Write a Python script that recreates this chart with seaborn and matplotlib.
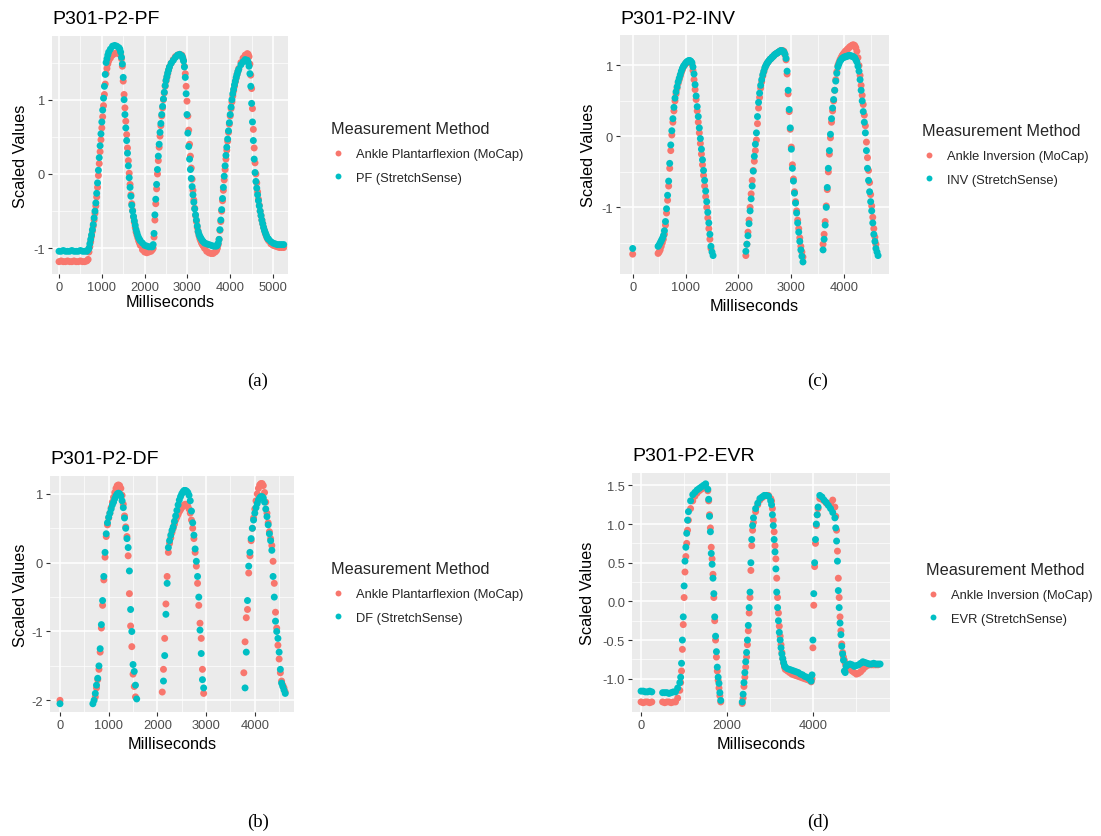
import numpy as np
import pandas as pd
import matplotlib.pyplot as plt
import seaborn as sns
from matplotlib.ticker import MultipleLocator, FormatStrFormatter

nan = np.nan
RED = "#F8766D"
TEAL = "#00BFC4"

# Each series is stored as segments: (start ms, sample step ms) + values.
# Steep stretches are read at a finer step than the flat ones.

# (a) P301-P2-PF
PF_SEGMENTS = [(0, 50), (680, 20), (1200, 50), (1420, 20), (1950, 50), (2180, 20), (2620, 50),
               (2890, 20), (3400, 50), (3680, 20), (4250, 50), (4420, 20), (4950, 50)]
PF_MOCAP = [
    [-1.18, -1.17, -1.18, -1.18, -1.17, -1.18, -1.18, -1.17, -1.18, -1.18, -1.17, -1.18, -1.18, -1.17],
    [-1.15, -1.05, -0.98, -0.91, -0.84, -0.77, -0.70, -0.62, -0.53, -0.43, -0.31, -0.18, -0.02,
     0.14, 0.30, 0.46, 0.62, 0.77, 0.92, 1.07, 1.21, 1.35, 1.42, 1.48, 1.52],
    [1.56, 1.60, 1.62, 1.63, 1.62],
    [1.61, 1.60, 1.55, 1.45, 1.25, 1.07, 0.89, 0.71, 0.53, 0.35, 0.18, 0.01, -0.14,
     -0.28, -0.40, -0.49, -0.58, -0.65, -0.72, -0.78, -0.82, -0.86, -0.90, -0.93, -0.96],
    [-1.02, -1.05, -1.06, -1.05, -1.04],
    [-1.02, -1.00, -0.85, -0.62, -0.40, -0.20, 0.00, 0.18, 0.36, 0.51, 0.65, 0.78, 0.89,
     1.00, 1.09, 1.18, 1.25, 1.30, 1.35, 1.40, 1.44],
    [1.49, 1.54, 1.58, 1.60, 1.61, 1.60],
    [1.57, 1.53, 1.45, 1.35, 1.18, 0.98, 0.78, 0.59, 0.40, 0.24, 0.08, -0.07, -0.22,
     -0.35, -0.46, -0.56, -0.64, -0.72, -0.78, -0.83, -0.87, -0.90, -0.93, -0.95, -0.97],
    [-1.00, -1.04, -1.06, -1.07, -1.07, -1.05],
    [-1.03, -1.00, -0.95, -0.88, -0.76, -0.64, -0.50, -0.36, -0.22, -0.08, 0.06, 0.20, 0.32, 0.44,
     0.56, 0.67, 0.78, 0.88, 0.97, 1.05, 1.12, 1.18, 1.24, 1.29, 1.34, 1.38, 1.42],
    [1.50, 1.56, 1.60, 1.62],
    [1.61, 1.58, 1.48, 1.33, 1.15, 0.88, 0.60, 0.35, 0.15, 0.00, -0.12, -0.24, -0.34,
     -0.42, -0.50, -0.56, -0.62, -0.67, -0.72, -0.76, -0.80, -0.83, -0.86, -0.88, -0.90],
    [-0.94, -0.96, -0.97, -0.98, -0.99, -0.99, -0.99],
]
PF_STRETCH = [
    [-1.04, -1.04, -1.03, -1.04, -1.04, -1.04, -1.03, -1.04, -1.04, -1.04, -1.03, -1.04, -1.04, -1.04],
    [-1.02, -1.00, -0.94, -0.88, -0.82, -0.75, -0.68, -0.59, -0.50, -0.39, -0.26, -0.12, 0.05,
     0.22, 0.38, 0.54, 0.70, 0.86, 1.02, 1.18, 1.34, 1.50, 1.55, 1.60, 1.64],
    [1.68, 1.72, 1.73, 1.72, 1.70],
    [1.68, 1.64, 1.57, 1.48, 1.30, 1.00, 0.80, 0.62, 0.45, 0.28, 0.11, -0.05, -0.18,
     -0.30, -0.42, -0.50, -0.57, -0.63, -0.69, -0.75, -0.79, -0.83, -0.86, -0.88, -0.90],
    [-0.93, -0.96, -0.97, -0.98, -0.98],
    [-0.98, -0.95, -0.80, -0.55, -0.34, -0.14, 0.06, 0.24, 0.40, 0.56, 0.68, 0.80, 0.91,
     1.01, 1.10, 1.19, 1.26, 1.31, 1.36, 1.40, 1.44],
    [1.49, 1.53, 1.57, 1.60, 1.61, 1.59],
    [1.56, 1.52, 1.44, 1.30, 1.08, 0.80, 0.55, 0.37, 0.20, 0.06, -0.06, -0.17, -0.28,
     -0.38, -0.47, -0.55, -0.62, -0.70, -0.77, -0.81, -0.84, -0.86, -0.88, -0.90, -0.91],
    [-0.93, -0.94, -0.95, -0.96, -0.97, -0.97],
    [-0.97, -0.96, -0.93, -0.88, -0.75, -0.62, -0.48, -0.33, -0.18, -0.03, 0.11, 0.25, 0.36, 0.47,
     0.58, 0.69, 0.80, 0.90, 1.00, 1.08, 1.14, 1.20, 1.25, 1.30, 1.34, 1.38, 1.41],
    [1.47, 1.51, 1.54, 1.53],
    [1.50, 1.45, 1.35, 1.18, 0.95, 0.70, 0.45, 0.20, 0.02, -0.10, -0.19, -0.28, -0.36,
     -0.43, -0.50, -0.56, -0.62, -0.67, -0.72, -0.76, -0.79, -0.82, -0.85, -0.87, -0.88],
    [-0.91, -0.93, -0.94, -0.95, -0.95, -0.95, -0.95],
]

# (b) P301-P2-DF
DF_SEGMENTS = [(0, 25), (675, 25), (2100, 25), (3775, 25)]
DF_MOCAP = [
    [-2.00],
    [nan, nan, -1.95, -1.82, -1.70, -1.55, -1.30, -0.95, -0.62, -0.25, 0.08, 0.38, 0.55, 0.65, 0.72, 0.80,
     0.88, 0.95, 1.02, 1.08, 1.12, 1.13, 1.12, 1.08, 0.98, 0.85, 0.68, 0.52, 0.38, 0.10, -0.45, -0.92,
     -1.22, -1.62, -1.80, -1.95, nan],
    [-1.88, -1.55, -1.10, -0.60, -0.20, 0.15, 0.28, 0.36, 0.44, 0.50, 0.56, 0.62, 0.66, 0.70, 0.74, 0.77,
     0.80, 0.82, 0.84, 0.85, 0.84, 0.82, 0.78, 0.72, 0.62, 0.50, 0.35, 0.15, -0.05, -0.30, -0.62, -0.88,
     -1.10, -1.55, -1.90],
    [-1.60, -1.15, -0.80, -0.68, -0.15, 0.10, 0.32, 0.50, 0.65, 0.78, 0.90, 1.00, 1.08, 1.13, 1.15, 1.15,
     1.12, 1.02, 0.88, 0.72, 0.58, 0.45, 0.35, 0.25, 0.02, -0.30, -0.72, -0.95, -1.20, -1.40, -1.60, -1.72,
     -1.78, -1.82, -1.88],
]
DF_STRETCH = [
    [-2.05],
    [-2.05, -2.00, -1.90, -1.78, -1.68, -1.50, -1.25, -0.90, -0.55, -0.20, 0.15, 0.42, 0.58, 0.66, 0.72, 0.78,
     0.84, 0.88, 0.93, 0.97, 1.00, 1.01, 1.00, 0.97, 0.90, 0.80, 0.65, 0.50, 0.35, 0.22, -0.12, -0.68,
     -1.00, -1.48, -1.58, -1.78, -1.98],
    [nan, -1.72, -1.35, -0.75, -0.30, 0.22, 0.32, 0.40, 0.47, 0.52, 0.60, 0.68, 0.76, 0.84, 0.91, 0.96,
     1.00, 1.03, 1.05, 1.05, 1.04, 1.02, 0.98, 0.90, 0.75, 0.58, 0.40, 0.20, 0.02, -0.20, -0.50, -0.98,
     -1.32, -1.70, -1.82],
    [nan, -1.82, -1.30, -0.55, -0.05, 0.15, 0.35, 0.50, 0.62, 0.72, 0.80, 0.86, 0.91, 0.94, 0.96, 0.96,
     0.94, 0.88, 0.78, 0.67, 0.55, 0.42, 0.32, 0.18, -0.20, -0.50, -0.85, -1.00, -1.10, -1.30, -1.55, -1.75,
     -1.80, -1.85, -1.90],
]

# (c) P301-P2-INV
INV_SEGMENTS = [(0, 20), (480, 20), (2140, 20), (3600, 20)]
INV_MOCAP = [
    [-1.66],
    [-1.65, -1.63, -1.60, -1.55, -1.50, -1.45, -1.38, -1.25, -1.08, -0.90, -0.70, -0.45, -0.20, 0.02,
     0.20, 0.36, 0.50, 0.60, 0.68, 0.75, 0.80, 0.85, 0.90, 0.94, 0.98, 1.00, 1.03, 1.04, 1.05, 1.05,
     1.05, 1.04, 1.02, 0.93, 0.80, 0.66, 0.52, 0.36, 0.20, 0.05, -0.10, -0.25, -0.40, -0.55, -0.70,
     -0.85, -1.00, -1.15, -1.30, -1.45, -1.58],
    [-1.68, -1.52, -1.35, -1.18, -1.00, -0.81, -0.62, -0.48, -0.35, -0.20, -0.05, 0.18, 0.40, 0.55,
     0.68, 0.77, 0.85, 0.91, 0.96, 1.00, 1.03, 1.05, 1.07, 1.09, 1.10, 1.12, 1.13, 1.15, 1.16, 1.17,
     1.18, 1.19, 1.20, 1.21, 1.21, 1.21, 1.20, 1.15, 1.08, 0.88, 0.60, 0.35, 0.10, -0.15, -0.40,
     -0.60, -0.78, -0.92, -1.05, -1.18, -1.30, -1.43, -1.55, -1.63, -1.70],
    [-1.52, -1.38, -1.20, -0.98, -0.75, -0.50, -0.25, -0.02, 0.20, 0.36, 0.50, 0.65, 0.80, 0.91,
     1.00, 1.04, 1.08, 1.11, 1.14, 1.16, 1.18, 1.20, 1.21, 1.23, 1.24, 1.26, 1.27, 1.28, 1.29, 1.29,
     1.28, 1.25, 1.20, 1.11, 1.00, 0.86, 0.72, 0.58, 0.45, 0.30, 0.15, -0.08, -0.30, -0.48, -0.65,
     -0.82, -0.98, -1.14, -1.30, -1.42, -1.52],
]
INV_STRETCH = [
    [-1.58],
    [-1.55, -1.53, -1.50, -1.47, -1.44, -1.40, -1.33, -1.20, -1.02, -0.83, -0.63, -0.38, -0.12, 0.08,
     0.25, 0.41, 0.54, 0.63, 0.70, 0.77, 0.82, 0.87, 0.92, 0.96, 0.99, 1.01, 1.03, 1.05, 1.06, 1.07,
     1.07, 1.06, 1.04, 0.98, 0.88, 0.73, 0.57, 0.42, 0.28, 0.12, -0.03, -0.18, -0.33, -0.48, -0.62,
     -0.77, -0.92, -1.07, -1.22, -1.38, -1.55, -1.63, -1.68],
    [-1.62, -1.52, -1.40, -1.23, -1.05, -0.88, -0.70, -0.49, -0.28, -0.11, 0.05, 0.28, 0.48, 0.61,
     0.72, 0.80, 0.87, 0.92, 0.97, 1.00, 1.03, 1.05, 1.07, 1.09, 1.10, 1.12, 1.13, 1.15, 1.16, 1.17,
     1.18, 1.19, 1.20, 1.21, 1.21, 1.20, 1.19, 1.16, 1.10, 0.92, 0.65, 0.38, 0.12, -0.18, -0.45,
     -0.63, -0.80, -0.94, -1.08, -1.22, -1.35, -1.48, -1.60, -1.69, -1.77],
    [-1.60, -1.45, -1.25, -1.00, -0.72, -0.45, -0.20, 0.03, 0.25, 0.40, 0.52, 0.65, 0.78, 0.89,
     0.98, 1.02, 1.06, 1.08, 1.10, 1.11, 1.12, 1.12, 1.13, 1.13, 1.14, 1.14, 1.14, 1.13, 1.13, 1.12,
     1.11, 1.08, 1.05, 0.99, 0.92, 0.80, 0.65, 0.50, 0.35, 0.20, 0.05, -0.20, -0.45, -0.62, -0.78,
     -0.92, -1.05, -1.22, -1.38, -1.48, -1.58, -1.63, -1.68],
]

# (d) P301-P2-EVR
EVR_SEGMENTS = [(0, 50), (500, 50), (920, 20), (1100, 50), (1570, 20), (2350, 20), (2610, 50),
                (3030, 20), (3400, 50), (3970, 20), (4150, 50), (4520, 20), (4800, 50)]
EVR_MOCAP = [
    [-1.30, -1.31, -1.30, -1.30, -1.31, -1.30],
    [-1.30, -1.31, -1.30, -1.30, -1.31, -1.30, -1.30, -1.25, -1.15],
    [-1.05, -0.90, -0.62, -0.30, 0.05, 0.38, 0.58, 0.75, 0.92],
    [1.05, 1.20, 1.30, 1.36, 1.40, 1.43, 1.45, 1.47, 1.49, 1.43],
    [1.30, 1.12, 0.95, 0.70, 0.55, 0.35, 0.05, -0.25, -0.50, -0.72, -0.90, -1.02, -1.12, -1.22, -1.30],
    [-1.32, -1.25, -1.10, -0.98, -0.85, -0.72, -0.56, -0.38, -0.15, 0.05, 0.40, 0.72, 0.92],
    [1.02, 1.16, 1.25, 1.31, 1.34, 1.36, 1.37, 1.37, 1.33],
    [1.30, 1.20, 1.05, 0.90, 0.72, 0.55, 0.30, 0.05, -0.15, -0.32, -0.45, -0.56, -0.66, -0.74, -0.80, -0.85, -0.88],
    [-0.90, -0.92, -0.94, -0.95, -0.96, -0.97, -0.98, -0.99, -1.00, -1.01, -1.02, -1.04],
    [-1.00, -0.60, -0.05, 0.45, 0.75, 0.98, 1.12, 1.20],
    [1.33, 1.32, 1.30, 1.27, 1.25, 1.27, 1.31, 1.22],
    [1.10, 0.92, 0.65, 0.30, 0.05, -0.20, -0.38, -0.55, -0.66, -0.72, -0.76, -0.80, -0.83],
    [-0.86, -0.88, -0.90, -0.92, -0.94, -0.93, -0.91, -0.88, -0.85, -0.83, -0.82, -0.82, -0.82, -0.82, -0.82],
]
EVR_STRETCH = [
    [-1.16, -1.16, -1.17, -1.17, -1.16, -1.17],
    [-1.18, -1.18, -1.18, -1.19, -1.18, -1.17, -1.17, -1.12, -1.05],
    [-0.98, -0.80, -0.50, -0.20, 0.20, 0.52, 0.70, 0.88, 1.05],
    [1.16, 1.30, 1.38, 1.41, 1.44, 1.46, 1.48, 1.50, 1.52, 1.45],
    [1.32, 1.10, 0.90, 0.62, 0.48, 0.30, 0.10, -0.20, -0.45, -0.65, -0.85, -0.98, -1.06, -1.18, -1.28],
    [-1.30, -1.20, -1.05, -0.92, -0.78, -0.66, -0.50, -0.31, -0.08, 0.12, 0.50, 0.80, 0.98],
    [1.08, 1.20, 1.27, 1.33, 1.35, 1.37, 1.37, 1.36, 1.30],
    [1.25, 1.12, 0.98, 0.80, 0.64, 0.42, 0.12, -0.08, -0.25, -0.40, -0.50, -0.60, -0.68, -0.74, -0.79, -0.83, -0.85],
    [-0.87, -0.88, -0.89, -0.90, -0.91, -0.92, -0.94, -0.95, -0.97, -0.98, -1.00, -1.03],
    [-0.95, -0.50, 0.10, 0.50, 0.80, 1.00, 1.12, 1.22],
    [1.37, 1.35, 1.31, 1.28, 1.24, 1.20, 1.15, 1.08],
    [0.95, 0.78, 0.52, 0.14, -0.08, -0.28, -0.43, -0.58, -0.68, -0.76, -0.90, -0.92, -0.84],
    [-0.82, -0.81, -0.82, -0.84, -0.83, -0.82, -0.80, -0.78, -0.79, -0.80, -0.81, -0.81, -0.80, -0.81, -0.81, -0.81],
]

W, H = 1101, 837


def segment_frame(segments, values, label):
    parts = []
    for (start, step), vals in zip(segments, values):
        vals = np.asarray(vals, dtype=float)
        ms = start + step * np.arange(len(vals))
        parts.append(pd.DataFrame({"Milliseconds": ms, "Scaled Values": vals}))
    df = pd.concat(parts, ignore_index=True).dropna()
    df["Measurement Method"] = label
    return df


def px_rect(l, t, r, b):
    return [l / W, 1 - b / H, (r - l) / W, (b - t) / H]


panels = [
    dict(title="P301-P2-PF", segs=PF_SEGMENTS, mocap=PF_MOCAP, stretch=PF_STRETCH,
         labels=("Ankle Plantarflexion (MoCap)", "PF (StretchSense)"),
         box=(52, 37, 288, 275), xlim=(-164, 5350), ylim=(-1.346, 1.857),
         xstep=1000, ystep=1, yfmt="%d", ylab_x=28, xlab_y=295,
         leg=(325, 116), cap=("(a)", 258, 381)),
    dict(title="P301-P2-INV", segs=INV_SEGMENTS, mocap=INV_MOCAP, stretch=INV_STRETCH,
         labels=("Ankle Inversion (MoCap)", "INV (StretchSense)"),
         box=(620, 36, 889, 275), xlim=(-240, 4847), ylim=(-1.94, 1.43),
         xstep=1000, ystep=1, yfmt="%d", ylab_x=596, xlab_y=299,
         leg=(916, 118), cap=("(c)", 818, 381)),
    dict(title="P301-P2-DF", segs=DF_SEGMENTS, mocap=DF_MOCAP, stretch=DF_STRETCH,
         labels=("Ankle Plantarflexion (MoCap)", "DF (StretchSense)"),
         box=(50, 477, 294, 713), xlim=(-205, 4805), ylim=(-2.17, 1.26),
         xstep=1000, ystep=1, yfmt="%d", ylab_x=28, xlab_y=737,
         leg=(325, 556), cap=("(b)", 258, 822)),
    dict(title="P301-P2-EVR", segs=EVR_SEGMENTS, mocap=EVR_MOCAP, stretch=EVR_STRETCH,
         labels=("Ankle Inversion (MoCap)", "EVR (StretchSense)"),
         box=(632, 474, 890, 713), xlim=(-210, 5780), ylim=(-1.43, 1.66),
         xstep=2000, ystep=0.5, yfmt="%.1f", ylab_x=595, xlab_y=737,
         leg=(920, 557), cap=("(d)", 818, 822)),
]

sns.set_theme(style="darkgrid")
plt.rcParams["font.family"] = ["Liberation Sans", "DejaVu Sans"]
plt.rcParams["axes.unicode_minus"] = False

fig = plt.figure(figsize=(W / 100, H / 100), dpi=100)

for p in panels:
    l, t, r, b = p["box"]
    ax = fig.add_axes(px_rect(l, t, r, b))
    df = pd.concat([segment_frame(p["segs"], p["mocap"], p["labels"][0]),
                    segment_frame(p["segs"], p["stretch"], p["labels"][1])],
                   ignore_index=True)
    sns.scatterplot(data=df, x="Milliseconds", y="Scaled Values", hue="Measurement Method",
                    palette=[RED, TEAL], s=25, linewidth=0, ax=ax)

    ax.set_facecolor("#EBEBEB")
    ax.set_xlim(*p["xlim"])
    ax.set_ylim(*p["ylim"])
    ax.xaxis.set_major_locator(MultipleLocator(p["xstep"]))
    ax.xaxis.set_minor_locator(MultipleLocator(p["xstep"] / 2))
    ax.yaxis.set_major_locator(MultipleLocator(p["ystep"]))
    ax.yaxis.set_minor_locator(MultipleLocator(p["ystep"] / 2))
    ax.yaxis.set_major_formatter(FormatStrFormatter(p["yfmt"]))
    ax.grid(which="major", color="white", linewidth=1.1)
    ax.grid(which="minor", color="white", linewidth=0.5)
    ax.set_axisbelow(True)
    for s in ax.spines.values():
        s.set_visible(False)
    ax.tick_params(which="major", length=3, width=0.8, color="#333333",
                   labelcolor="#4D4D4D", labelsize=9.3, pad=2, bottom=True, left=True)
    ax.tick_params(which="minor", length=0)

    ax.set_title(p["title"], loc="left", fontsize=14, pad=9, color="black")
    ax.set_xlabel("Milliseconds", fontsize=11.7, color="black")
    ax.set_ylabel("Scaled Values", fontsize=11.7, color="black")
    ax.yaxis.set_label_coords((p["ylab_x"] - l) / (r - l), 0.5)
    ax.xaxis.set_label_coords(0.5, -(p["xlab_y"] - b) / (b - t))

    lx, ly = p["leg"]
    sns.move_legend(ax, "upper left", bbox_to_anchor=(lx / W, 1 - ly / H),
                    bbox_transform=fig.transFigure, frameon=False,
                    title="Measurement Method", title_fontsize=11.7, fontsize=9.3,
                    alignment="left", borderpad=0, labelspacing=0.9, markerscale=0.85,
                    handlelength=1.0, handletextpad=0.9)

    cap, cx, cy = p["cap"]
    fig.text(cx / W, 1 - cy / H, cap, ha="center", va="center", fontsize=13.5,
             family=["Liberation Serif", "DejaVu Serif"], color="black")

fig.savefig("out.png", dpi=100, facecolor="white")
